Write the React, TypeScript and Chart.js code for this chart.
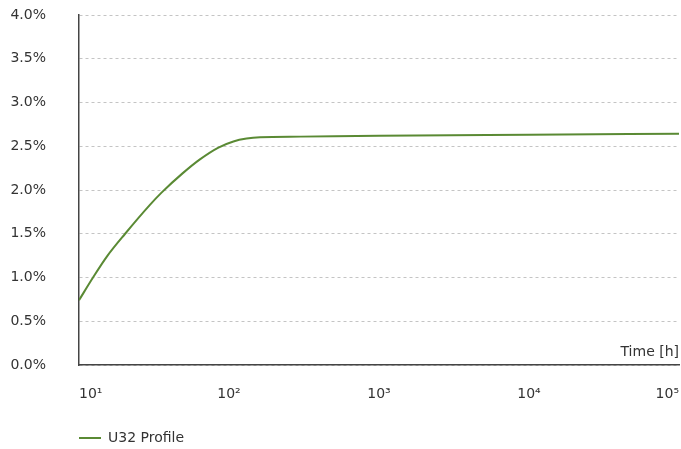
import { useEffect, useRef } from 'react';
import { Chart, registerables } from 'chart.js';

Chart.register(...registerables);

// time in hours (log axis) and creep value in %
const hours = [10, 12.4, 15.5, 20.3, 29.7, 35.5, 49, 64, 85, 107, 131, 161, 300, 1000, 10000, 100000];
const profile = [0.74, 1.0, 1.25, 1.5, 1.83, 1.97, 2.19, 2.35, 2.485, 2.555, 2.588, 2.603, 2.61, 2.62, 2.632, 2.643];
const xTicks = [10, 100, 1000, 10000, 100000];
const xTickLabels = ['10¹', '10²', '10³', '10⁴', '10⁵'];
const seriesLabel = 'U32 Profile';
const xTitle = 'Time [h]';

const FONT = 'DejaVu Sans';
const TEXT = '#333333';
const GREEN = '#5a8a34';

const axisTitle = {
  id: 'axisTitle',
  afterDraw(chart: Chart) {
    const { ctx, chartArea } = chart;
    ctx.save();
    ctx.font = `14px "${FONT}"`;
    ctx.fillStyle = TEXT;
    ctx.textAlign = 'right';
    ctx.textBaseline = 'middle';
    ctx.fillText(xTitle, chartArea.right, chartArea.bottom - 13);
    ctx.restore();
  },
};

// push the legend under the plot area
const legendShift = {
  id: 'legendShift',
  afterLayout(chart: Chart) {
    const legend: any = chart.legend;
    if (!legend) return;
    legend.left = chart.chartArea.left - 10;
    legend.top += 6;
  },
};

export default function App() {
  const canvasRef = useRef<HTMLCanvasElement>(null);

  useEffect(() => {
    if (!canvasRef.current) return;
    const chart = new Chart(canvasRef.current, {
      type: 'line',
      data: {
        datasets: [
          {
            label: seriesLabel,
            data: hours.map((h, i) => ({ x: h, y: profile[i] })),
            borderColor: GREEN,
            backgroundColor: GREEN,
            borderWidth: 2,
            pointRadius: 0,
            cubicInterpolationMode: 'monotone',
            fill: false,
          },
        ],
      },
      options: {
        animation: false,
        responsive: true,
        maintainAspectRatio: false,
        layout: { padding: { top: 15, right: 2, left: 0, bottom: 0 } },
        plugins: {
          tooltip: { enabled: false },
          legend: {
            position: 'bottom',
            align: 'start',
            labels: {
              usePointStyle: true,
              pointStyle: 'line',
              pointStyleWidth: 22,
              color: TEXT,
              font: { family: FONT, size: 14 },
            },
          },
        },
        scales: {
          x: {
            type: 'logarithmic',
            min: 10,
            max: 100000,
            afterBuildTicks: (scale: any) => {
              scale.ticks = xTicks.map((v) => ({ value: v }));
            },
            afterFit: (scale: any) => {
              scale.height = 50;
              scale.paddingLeft = 0;
              scale.paddingRight = 0;
            },
            grid: { display: false },
            border: { display: true, color: '#444444', width: 1.5 },
            ticks: {
              align: 'inner',
              padding: 13,
              maxRotation: 0,
              color: TEXT,
              font: { family: FONT, size: 14 },
              callback: (v: any) => {
                const i = xTicks.indexOf(Number(v));
                return i >= 0 ? xTickLabels[i] : '';
              },
            },
          },
          y: {
            min: 0,
            max: 4,
            afterFit: (scale: any) => {
              scale.width = 79;
              scale.paddingTop = 0;
              scale.paddingBottom = 0;
            },
            grid: {
              color: '#c4c4c4',
              lineWidth: 1,
              drawTicks: false,
            },
            border: { display: true, color: '#444444', width: 1.5, dash: [3, 3] },
            ticks: {
              stepSize: 0.5,
              padding: 33,
              color: TEXT,
              font: { family: FONT, size: 14 },
              callback: (v: any) => Number(v).toFixed(1) + '%',
            },
          },
        },
      },
      plugins: [axisTitle, legendShift],
    });
    return () => chart.destroy();
  }, []);

  return (
    <div style={{ position: 'fixed', left: 0, top: 0, width: 681, height: 449 }}>
      <canvas ref={canvasRef} />
    </div>
  );
}
